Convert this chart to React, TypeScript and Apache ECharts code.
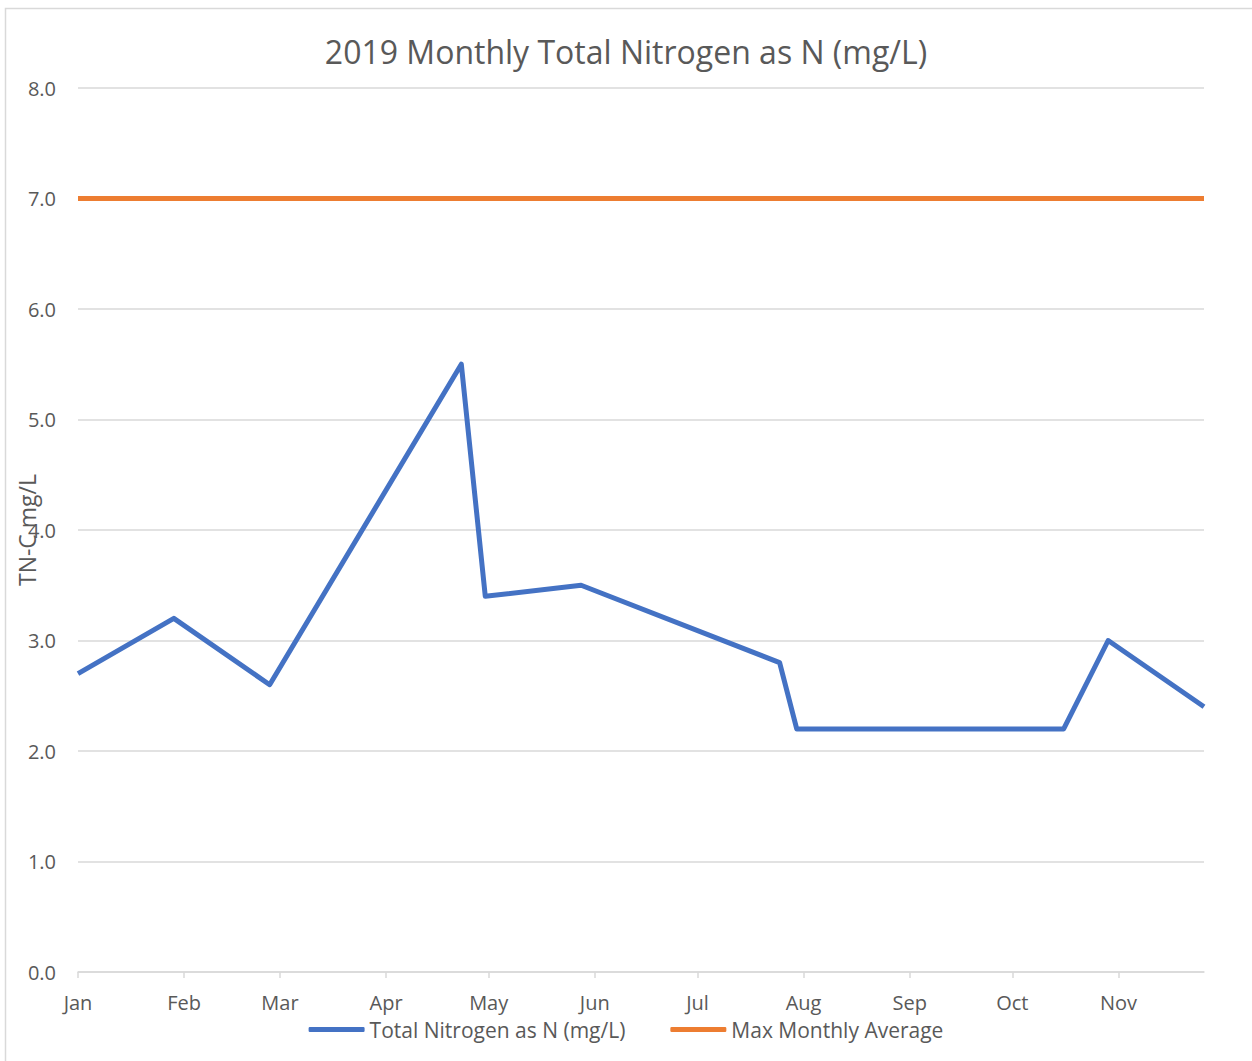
import React, { useEffect, useRef } from "react";
import * as echarts from "echarts";

const titleText = "2019 Monthly Total Nitrogen as N (mg/L)";
const yAxisName = "TN-C mg/L";
const monthLabels = ["Jan", "Feb", "Mar", "Apr", "May", "Jun", "Jul", "Aug", "Sep", "Oct", "Nov", "Dec"];
const tickDates = [
  "2019-01-01", "2019-02-01", "2019-03-01", "2019-04-01", "2019-05-01", "2019-06-01",
  "2019-07-01", "2019-08-01", "2019-09-01", "2019-10-01", "2019-11-01",
];
const axisStart = "2019-01-01";
const axisEnd = "2019-11-26";
const sampleDates = [
  "2019-01-01", "2019-01-29", "2019-02-26", "2019-04-23", "2019-04-30", "2019-05-28",
  "2019-07-25", "2019-07-30", "2019-10-16", "2019-10-29", "2019-11-26",
];
const totalNitrogen = [2.7, 3.2, 2.6, 5.5, 3.4, 3.5, 2.8, 2.2, 2.2, 3.0, 2.4];
const maxMonthlyAverage = [7, 7, 7, 7, 7, 7, 7, 7, 7, 7, 7];
const seriesNames = ["Total Nitrogen as N (mg/L)", "Max Monthly Average"];

const DAY = 86400000;
const t0 = Date.parse(axisStart + "T00:00:00Z");
const toDay = (d: string) => Math.round((Date.parse(d + "T00:00:00Z") - t0) / DAY);
const dayToMonth = (v: number) => monthLabels[new Date(t0 + Math.round(v) * DAY).getUTCMonth()];

export default function App() {
  const ref = useRef<HTMLDivElement>(null);
  useEffect(() => {
    if (!ref.current) return;
    const chart = echarts.init(ref.current, undefined, { renderer: "svg" });
    const font = "'Open Sans', Lato, sans-serif";
    const gray = "#595959";
    const ticks = tickDates.map(toDay);
    chart.setOption({
      animation: false,
      backgroundColor: "#ffffff",
      textStyle: { fontFamily: font },
      title: {
        text: titleText,
        left: "center",
        top: 30,
        textStyle: { fontFamily: font, fontSize: 32, fontWeight: "normal", color: gray },
      },
      legend: {
        bottom: 16,
        left: "center",
        itemWidth: 56,
        itemHeight: 5,
        itemGap: 45,
        icon: "roundRect",
        textStyle: { fontFamily: font, fontSize: 21, color: gray },
        data: seriesNames,
      },
      grid: { left: 78, right: 48, top: 88, bottom: 89, containLabel: false, outerBoundsMode: "none" },
      xAxis: {
        type: "value",
        min: toDay(axisStart),
        max: toDay(axisEnd),
        axisLine: { show: true, onZero: false, lineStyle: { color: "#d9d9d9", width: 1.5 } },
        axisTick: {
          show: true,
          length: 6,
          lineStyle: { color: "#d9d9d9", width: 1.5 },
          customValues: ticks,
        },
        axisLabel: {
          customValues: ticks,
          formatter: (v: number) => dayToMonth(v),
          color: gray,
          fontSize: 20,
          fontFamily: font,
          margin: 20,
        },
        splitLine: { show: false },
      },
      yAxis: {
        type: "value",
        min: 0,
        max: 8,
        interval: 1,
        name: yAxisName,
        nameLocation: "middle",
        nameGap: 40,
        nameRotate: 90,
        nameMoveOverlap: false,
        nameTextStyle: { fontFamily: font, fontSize: 23, color: gray },
        axisLine: { show: false },
        axisTick: { show: false },
        axisLabel: {
          formatter: (v: number) => v.toFixed(1),
          color: gray,
          fontSize: 20,
          fontFamily: font,
          margin: 22,
        },
        splitLine: { lineStyle: { color: "#d9d9d9", width: 1.5 } },
      },
      graphic: [
        {
          type: "rect",
          silent: true,
          z: -1,
          shape: { x: 5.5, y: 8.5, width: 1270, height: 1080 },
          style: { fill: "none", stroke: "#d9d9d9", lineWidth: 1.5 },
        },
      ],
      series: [
        {
          name: seriesNames[0],
          type: "line",
          data: sampleDates.map((d, i) => [toDay(d), totalNitrogen[i]]),
          showSymbol: false,
          symbol: "none",
          lineStyle: { color: "#4472C4", width: 5, join: "round" },
          itemStyle: { color: "#4472C4" },
        },
        {
          name: seriesNames[1],
          type: "line",
          data: sampleDates.map((d, i) => [toDay(d), maxMonthlyAverage[i]]),
          showSymbol: false,
          symbol: "none",
          lineStyle: { color: "#ED7D31", width: 5 },
          itemStyle: { color: "#ED7D31" },
        },
      ],
    });
    return () => chart.dispose();
  }, []);
  return (
    <div
      ref={ref}
      style={{ position: "absolute", left: 0, top: 0, width: 1252, height: 1061 }}
    />
  );
}
